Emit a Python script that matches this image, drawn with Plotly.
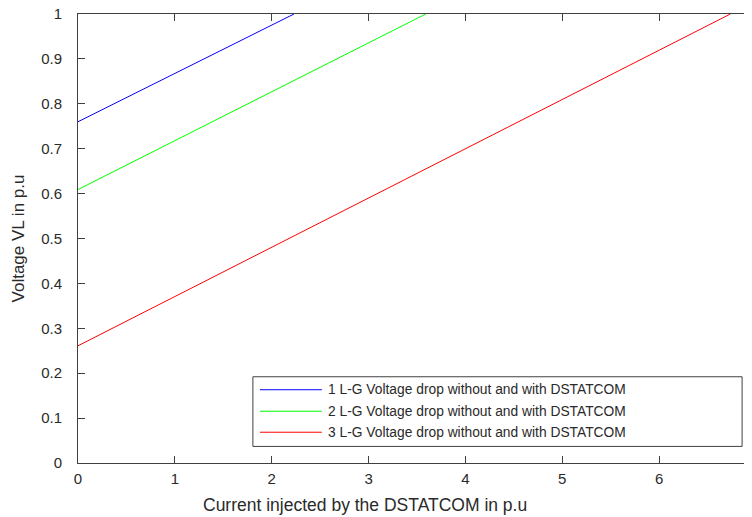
import plotly.graph_objects as go

# Data
series_names = [
    "1 L-G Voltage drop without and with DSTATCOM",
    "2 L-G Voltage drop without and with DSTATCOM",
    "3 L-G Voltage drop without and with DSTATCOM",
]
series_colors = ["#0000ff", "#00ff00", "#ff0000"]
x_blue = [0.0, 2.23]
y_blue = [0.76, 1.0]
x_green = [0.0, 3.59]
y_green = [0.609, 1.0]
x_red = [0.0, 6.735]
y_red = [0.261, 1.0]
x_ticks = [0, 1, 2, 3, 4, 5, 6, 7]
y_ticks = [0, 0.1, 0.2, 0.3, 0.4, 0.5, 0.6, 0.7, 0.8, 0.9, 1]
y_tick_labels = ["0", "0.1", "0.2", "0.3", "0.4", "0.5", "0.6", "0.7", "0.8", "0.9", "1"]
x_title = "Current injected by the DSTATCOM in p.u"
y_title = "Voltage VL in p.u"

xs = [x_blue, x_green, x_red]
ys = [y_blue, y_green, y_red]

fig = go.Figure()
for xv, yv, name, col in zip(xs, ys, series_names, series_colors):
    fig.add_trace(go.Scatter(x=xv, y=yv, mode="lines", name=name,
                             line=dict(color=col, width=1), showlegend=False))

font = "Liberation Sans, Arial, sans-serif"
axcol = "#404040"
txtcol = "#2a2a2a"

OFF = 8  # page body margin
W, H = 752, 509
L, R, T, B = 70, 3.6, 6, 53.7
pw = W - L - R
ph = H - T - B

fig.update_layout(
    width=W, height=H,
    margin=dict(l=L, r=R, t=T, b=B, pad=0, autoexpand=False),
    paper_bgcolor="white", plot_bgcolor="white",
    font=dict(family=font, size=15, color=txtcol),
    xaxis=dict(range=[0, 7], tickvals=x_ticks, ticks="inside", ticklen=7,
               tickcolor=axcol, showline=True, linecolor=axcol, linewidth=1,
               mirror="allticks", showgrid=False, zeroline=False, automargin=False,
               ticklabelstandoff=2, ticklabeloverflow="allow"),
    yaxis=dict(range=[0, 1], tickvals=y_ticks, ticktext=y_tick_labels,
               ticks="inside", ticklen=7, tickcolor=axcol, showline=True,
               linecolor=axcol, linewidth=1, mirror="ticks", showgrid=False,
               zeroline=False, ticklabelstandoff=12, ticklabeloverflow="allow",
               automargin=False,
               title=dict(text=y_title, font=dict(size=17), standoff=12)),
)

# positions in window pixels -> paper coords
def px_x(p):
    return (p - OFF - L) / pw

def px_y(p):
    return (H - B - (p - OFF)) / ph

# x-axis title (offset to the left as in the reference)
fig.add_annotation(xref="paper", yref="paper", x=px_x(365), y=px_y(505),
                   text=x_title, showarrow=False, xanchor="center", yanchor="middle",
                   font=dict(size=17.5, color=txtcol))

# Manual legend (MATLAB style)
fig.add_shape(type="rect", xref="paper", yref="paper",
              x0=px_x(253), x1=px_x(742.5), y0=px_y(446.7), y1=px_y(377),
              line=dict(color=axcol, width=1), fillcolor="white", layer="above")
rows = [390, 411.5, 432.5]
for yy, name, col in zip(rows, series_names, series_colors):
    fig.add_shape(type="line", xref="paper", yref="paper",
                  x0=px_x(260), x1=px_x(322), y0=px_y(yy), y1=px_y(yy),
                  line=dict(color=col, width=1), layer="above")
    fig.add_annotation(xref="paper", yref="paper", x=px_x(326), y=px_y(yy),
                       text=name, showarrow=False, xanchor="left", yanchor="middle",
                       font=dict(size=13.8, color=txtcol))

fig.write_html("out.html")
